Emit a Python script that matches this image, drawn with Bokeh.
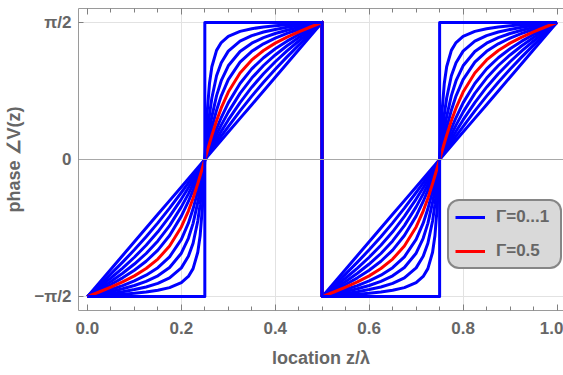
from bokeh.plotting import figure
from bokeh.models import Range1d, FixedTicker, LinearAxis, Span, Legend, LegendItem
from bokeh.embed import file_html
from bokeh.resources import INLINE

# ---------------- data ----------------
gammas = [0.0, 0.1, 0.2, 0.3, 0.4, 0.5, 0.6, 0.7, 0.8, 0.9, 1.0]
highlight_gamma = 0.5

z = [0.0, 0.025, 0.05, 0.075, 0.1, 0.125, 0.15, 0.175, 0.2, 0.215, 0.225, 0.235, 0.24, 0.245, 0.25,
     0.255, 0.26, 0.265, 0.275, 0.285, 0.3, 0.325, 0.35, 0.375, 0.4, 0.425, 0.45, 0.475, 0.5,
     0.5, 0.525, 0.55, 0.575, 0.6, 0.625, 0.65, 0.675, 0.7, 0.715, 0.725, 0.735, 0.74, 0.745, 0.75,
     0.755, 0.76, 0.765, 0.775, 0.785, 0.8, 0.825, 0.85, 0.875, 0.9, 0.925, 0.95, 0.975, 1.0]

# phase over one half-period (repeats for the second half-period)
phase_g00 = [-1.5708, -1.4137, -1.2566, -1.0996, -0.9425, -0.7854, -0.6283, -0.4712, -0.3142, -0.2199,
             -0.1571, -0.0942, -0.0628, -0.0314, 0.0, 0.0314, 0.0628, 0.0942, 0.1571, 0.2199,
             0.3142, 0.4712, 0.6283, 0.7854, 0.9425, 1.0996, 1.2566, 1.4137, 1.5708]
phase_g01 = [-1.5708, -1.4419, -1.3110, -1.1758, -1.0345, -0.8851, -0.7261, -0.5570, -0.3780, -0.2667,
             -0.1912, -0.1150, -0.0767, -0.0384, 0.0, 0.0384, 0.0767, 0.1150, 0.1912, 0.2667,
             0.3780, 0.5570, 0.7261, 0.8851, 1.0345, 1.1758, 1.3110, 1.4419, 1.5708]
phase_g02 = [-1.5708, -1.4656, -1.3575, -1.2434, -1.1198, -0.9828, -0.8284, -0.6526, -0.4535, -0.3235,
             -0.2333, -0.1409, -0.0941, -0.0471, 0.0, 0.0471, 0.0941, 0.1409, 0.2333, 0.3235,
             0.4535, 0.6526, 0.8284, 0.9828, 1.1198, 1.2434, 1.3575, 1.4656, 1.5708]
phase_g03 = [-1.5708, -1.4857, -1.3976, -1.3030, -1.1979, -1.0769, -0.9330, -0.7578, -0.5429, -0.3935,
             -0.2861, -0.1738, -0.1163, -0.0583, 0.0, 0.0583, 0.1163, 0.1738, 0.2861, 0.3935,
             0.5429, 0.7578, 0.9330, 1.0769, 1.1979, 1.3030, 1.3976, 1.4857, 1.5708]
phase_g04 = [-1.5708, -1.5030, -1.4324, -1.3558, -1.2690, -1.1659, -1.0379, -0.8715, -0.6487, -0.4808,
             -0.3540, -0.2171, -0.1458, -0.0732, 0.0, 0.0732, 0.1458, 0.2171, 0.3540, 0.4808,
             0.6487, 0.8715, 1.0379, 1.1659, 1.2690, 1.3558, 1.4324, 1.5030, 1.5708]
phase_g05 = [-1.5708, -1.5181, -1.4629, -1.4026, -1.3332, -1.2490, -1.1407, -0.9915, -0.7726, -0.5907,
             -0.4436, -0.2763, -0.1866, -0.0940, 0.0, 0.0940, 0.1866, 0.2763, 0.4436, 0.5907,
             0.7726, 0.9915, 1.1407, 1.2490, 1.3332, 1.4026, 1.4629, 1.5181, 1.5708]
phase_g06 = [-1.5708, -1.5312, -1.4898, -1.4441, -1.3911, -1.3258, -1.2394, -1.1147, -0.9150, -0.7296,
             -0.5647, -0.3615, -0.2465, -0.1250, 0.0, 0.1250, 0.2465, 0.3615, 0.5647, 0.7296,
             0.9150, 1.1147, 1.2394, 1.3258, 1.3911, 1.4441, 1.4898, 1.5312, 1.5708]
phase_g07 = [-1.5708, -1.5429, -1.5135, -1.4811, -1.4433, -1.3961, -1.3325, -1.2374, -1.0733, -0.9025,
             -0.7314, -0.4918, -0.3425, -0.1762, 0.0, 0.1762, 0.3425, 0.4918, 0.7314, 0.9025,
             1.0733, 1.2374, 1.3325, 1.3961, 1.4433, 1.4811, 1.5135, 1.5429, 1.5708]
phase_g08 = [-1.5708, -1.5532, -1.5347, -1.5142, -1.4903, -1.4601, -1.4191, -1.3561, -1.2413, -1.1095,
             -0.9590, -0.7049, -0.5152, -0.2757, 0.0, 0.2757, 0.5152, 0.7049, 0.9590, 1.1095,
             1.2413, 1.3561, 1.4191, 1.4601, 1.4903, 1.5142, 1.5347, 1.5532, 1.5708]
phase_g09 = [-1.5708, -1.5625, -1.5537, -1.5440, -1.5326, -1.5182, -1.4985, -1.4679, -1.4102, -1.3396,
             -1.2500, -1.0628, -0.8742, -0.5383, 0.0, 0.5383, 0.8742, 1.0628, 1.2500, 1.3396,
             1.4102, 1.4679, 1.4985, 1.5182, 1.5326, 1.5440, 1.5537, 1.5625, 1.5708]

# Gamma = 1: step curve
z_g10 = [0.0, 0.25, 0.25, 0.5, 0.5, 0.75, 0.75, 1.0]
phase_g10 = [-1.5708, -1.5708, 1.5708, 1.5708, -1.5708, -1.5708, 1.5708, 1.5708]

x_ticks = [0.0, 0.2, 0.4, 0.6, 0.8, 1.0]
x_tick_labels = ["0.0", "0.2", "0.4", "0.6", "0.8", "1.0"]
x_minor_ticks = [0.05, 0.1, 0.15, 0.25, 0.3, 0.35, 0.45, 0.5, 0.55, 0.65, 0.7, 0.75, 0.85, 0.9, 0.95]
x_grid = [0.2, 0.4, 0.6, 0.8]
y_ticks = [-1.5708, 0.0, 1.5708]
y_tick_labels = ["\u2212\u03c0/2", "0", "\u03c0/2"]

legend_labels = ["\u0393=0...1", "\u0393=0.5"]

# ---------------- styling ----------------
FONT = "Liberation Sans"
TXT = "#666666"
AXC = "#9a9a9a"
TICKC = "#808080"
BLUE = "#0000ff"
RED = "#ff0000"

p = figure(width=563, height=375, output_backend="svg", toolbar_location=None,
           x_range=Range1d(-0.019, 1.0138), y_range=Range1d(-1.73, 1.73),
           min_border_left=78, min_border_right=0, min_border_top=8, min_border_bottom=65,
           background_fill_color="white", border_fill_color="white")
p.outline_line_color = None

# grids
p.xgrid.ticker = FixedTicker(ticks=x_grid)
p.ygrid.ticker = FixedTicker(ticks=[y_ticks[0], y_ticks[2]])
p.grid.grid_line_color = "#e2e2e2"
p.grid.grid_line_width = 1
p.add_layout(Span(location=y_ticks[1], dimension="width", line_color="#a8a8a8", line_width=1.2))

# bottom axis
xa = p.xaxis[0]
xa.ticker = FixedTicker(ticks=x_ticks, minor_ticks=x_minor_ticks)
xa.major_label_overrides = dict(zip(x_ticks, x_tick_labels))
xa.axis_label = "location z/\u03bb"

# left axis
ya = p.yaxis[0]
ya.ticker = FixedTicker(ticks=y_ticks)
ya.major_label_overrides = dict(zip(y_ticks, y_tick_labels))
ya.axis_label = "phase \u2220V(z)"

for ax in (xa, ya):
    ax.axis_line_color = AXC
    ax.axis_line_width = 1
    ax.major_tick_line_color = TICKC
    ax.minor_tick_line_color = TICKC if ax is xa else None
    ax.major_tick_in = 6 if ax is xa else 5
    ax.major_tick_out = 0
    ax.minor_tick_in = 4
    ax.minor_tick_out = 0
    ax.major_label_text_font = FONT
    ax.major_label_text_font_style = "bold"
    ax.major_label_text_font_size = "17px"
    ax.major_label_text_color = TXT
    ax.axis_label_text_font = FONT
    ax.axis_label_text_font_style = "bold"
    ax.axis_label_text_font_size = "18px"
    ax.axis_label_text_color = TXT
xa.major_label_standoff = 11
xa.axis_label_standoff = 11
ya.major_label_standoff = 7
ya.axis_label_standoff = 7

# top frame axis: ticks only
top = LinearAxis(ticker=FixedTicker(ticks=x_ticks, minor_ticks=x_minor_ticks),
                 axis_line_color=AXC, major_tick_line_color=TICKC, minor_tick_line_color=TICKC,
                 major_tick_in=6, major_tick_out=0, minor_tick_in=4, minor_tick_out=0,
                 major_label_text_font_size="0px", major_label_standoff=0,
                 major_label_overrides={t: "" for t in x_ticks})
p.add_layout(top, "above")

# curves
curve_phases = [phase_g00, phase_g01, phase_g02, phase_g03, phase_g04, phase_g05,
                phase_g06, phase_g07, phase_g08, phase_g09]
blue_renderers = []
for g, ph in zip(gammas[:-1], curve_phases):
    if g == highlight_gamma:
        continue
    r = p.line(z, ph + ph, line_color=BLUE, line_width=3, line_join="round")
    blue_renderers.append(r)
r_red = p.line(z, phase_g05 + phase_g05, line_color=RED, line_width=3, line_join="round")
# Gamma = 1 drawn last: its vertical jumps are blue
r_step = p.line(z_g10, phase_g10, line_color=BLUE, line_width=3, line_join="round")
blue_renderers.append(r_step)

legend = Legend(items=[LegendItem(label=legend_labels[0], renderers=[blue_renderers[0]]),
                       LegendItem(label=legend_labels[1], renderers=[r_red])],
                location=(369, 41), orientation="vertical", margin=0,
                glyph_width=30, glyph_height=20, label_height=20, label_width=58,
                label_standoff=11, padding=6, spacing=14,
                border_line_color="#333333", border_line_width=2,
                background_fill_color="#d9d9d9", background_fill_alpha=1.0,
                label_text_font=FONT, label_text_font_style="bold",
                label_text_font_size="17px", label_text_color=TXT)
if "border_radius" in Legend.properties():
    legend.border_radius = 12
p.add_layout(legend)

open("out.html", "w").write(file_html(p, INLINE))
